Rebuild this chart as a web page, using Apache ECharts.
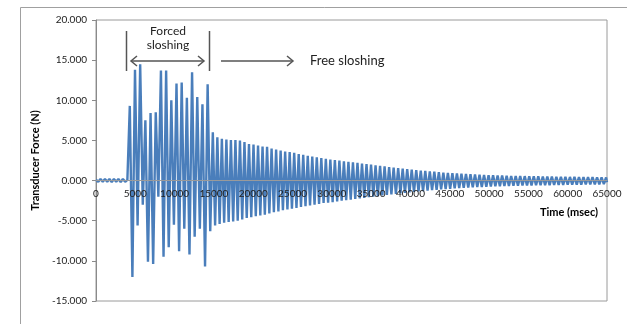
<!DOCTYPE html>
<html>
<head>
<meta charset="utf-8">
<script src="https://cdn.jsdelivr.net/npm/echarts@6/dist/echarts.min.js"></script>
<style>
html,body{margin:0;padding:0;background:#fff;}
#chart{width:627px;height:324px;}
</style>
</head>
<body>
<div id="chart"></div>
<script>
// ---- Data ----
// Tick labels
const yTicks = [-15, -10, -5, 0, 5, 10, 15, 20];
const xTicks = [0, 5000, 10000, 15000, 20000, 25000, 30000, 35000, 40000, 45000, 50000, 55000, 60000, 65000];

// Before excitation: small ripple
const preTimes = [0, 290, 570, 860, 1140, 1430, 1710, 2000, 2280, 2570, 2850, 3140, 3420, 3710, 3990, 4060];
const preForce = [0.1, -0.15, 0.2, -0.15, 0.2, -0.15, 0.2, -0.2, 0.2, -0.15, 0.2, -0.2, 0.2, -0.15, 0.1, 0.0];

// Forced sloshing extrema
const forcedTimes = [4300, 4630, 4960, 5290, 5620, 5950, 6280, 6610, 6940, 7270, 7600, 7930, 8260, 8590, 8920, 9250,
  9580, 9910, 10240, 10570, 10900, 11230, 11560, 11890, 12220, 12550, 12880, 13210, 13540, 13870, 14200, 14530];
const forcedForce = [9.3, -12.0, 13.8, -5.6, 14.5, -3.0, 7.5, -10.1, 8.4, -10.4, 8.5, -2.0, 13.7, -9.5, 13.7, -8.3,
  10.0, -5.5, 12.1, -8.8, 12.2, -6.0, 10.3, -9.2, 13.5, -7.0, 10.4, -6.0, 9.5, -10.7, 12.0, -6.3];

// Free sloshing: positive peaks
const freePeakTimes = [14860, 15435, 16010, 16585, 17160, 17735, 18310, 18885, 19460, 20035, 20610, 21185, 21760, 22335,
  22910, 23485, 24060, 24635, 25210, 25785, 26360, 26935, 27510, 28085, 28660, 29235, 29810, 30385, 30960, 31535, 32110,
  32685, 33260, 33835, 34410, 34985, 35560, 36135, 36710, 37285, 37860, 38435, 39010, 39585, 40160, 40735, 41310, 41885,
  42460, 43035, 43610, 44185, 44760, 45335, 45910, 46485, 47060, 47635, 48210, 48785, 49360, 49935, 50510, 51085, 51660,
  52235, 52810, 53385, 53960, 54535, 55110, 55685, 56260, 56835, 57410, 57985, 58560, 59135, 59710, 60285, 60860, 61435,
  62010, 62585, 63160, 63735, 64310, 64885];
const freePeakForce = [6.0, 5.4, 5.2, 5.1, 5.05, 5.05, 5.0, 4.8, 4.55, 4.5, 4.35, 4.25, 4.2, 4.0, 3.85, 3.75, 3.6, 3.55,
  3.45, 3.3, 3.2, 3.1, 3.0, 2.9, 2.8, 2.7,
  2.62, 2.55, 2.48, 2.4, 2.33, 2.26, 2.2, 2.12, 2.05, 1.98, 1.9, 1.83, 1.76, 1.69, 1.62, 1.55,
  1.48, 1.42, 1.36, 1.3, 1.25, 1.2, 1.15, 1.1, 1.05, 1.0, 0.96, 0.92, 0.88, 0.85, 0.82, 0.79, 0.76, 0.73, 0.7, 0.68,
  0.66, 0.64, 0.62, 0.6, 0.58, 0.57, 0.56, 0.55, 0.54, 0.53, 0.52, 0.51, 0.5, 0.49, 0.48, 0.47, 0.46, 0.45, 0.45, 0.44,
  0.43, 0.42, 0.42, 0.41, 0.4, 0.4];

// Free sloshing: negative troughs
const freeTroughTimes = [15150, 15725, 16300, 16875, 17450, 18025, 18600, 19175, 19750, 20325, 20900, 21475, 22050, 22625,
  23200, 23775, 24350, 24925, 25500, 26075, 26650, 27225, 27800, 28375, 28950, 29525, 30100, 30675, 31250, 31825, 32400,
  32975, 33550, 34125, 34700, 35275, 35850, 36425, 37000, 37575, 38150, 38725, 39300, 39875, 40450, 41025, 41600, 42175,
  42750, 43325, 43900, 44475, 45050, 45625, 46200, 46775, 47350, 47925, 48500, 49075, 49650, 50225, 50800, 51375, 51950,
  52525, 53100, 53675, 54250, 54825, 55400, 55975, 56550, 57125, 57700, 58275, 58850, 59425, 60000, 60575, 61150, 61725,
  62300, 62875, 63450, 64025, 64600, 65000];
const freeTroughForce = [-5.6, -5.4, -5.25, -5.15, -5.1, -5.0, -4.85, -4.65, -4.55, -4.45, -4.35, -4.25, -4.1, -3.95,
  -3.85, -3.7, -3.6, -3.5, -3.4, -3.3, -3.2, -3.1, -3.0, -2.9, -2.8, -2.75,
  -2.68, -2.6, -2.52, -2.45, -2.38, -2.3, -2.22, -2.15, -2.08, -2.0, -1.93, -1.86, -1.8, -1.73, -1.66, -1.6,
  -1.53, -1.47, -1.41, -1.35, -1.3, -1.25, -1.2, -1.15, -1.1, -1.06, -1.02, -0.98, -0.94, -0.91, -0.88, -0.85, -0.82,
  -0.79, -0.76, -0.74, -0.72, -0.7, -0.68, -0.66, -0.64, -0.63, -0.62, -0.61, -0.6, -0.59, -0.58, -0.57, -0.56, -0.55,
  -0.54, -0.53, -0.52, -0.51, -0.5, -0.5, -0.49, -0.48, -0.47, -0.46, -0.45, -0.2];

// ---- Build series data ----
function pairs(ts, vs) { return ts.map((t, i) => [t, vs[i]]); }
const seriesData = []
  .concat(pairs(preTimes, preForce))
  .concat(pairs(forcedTimes, forcedForce))
  .concat(pairs(freePeakTimes, freePeakForce))
  .concat(pairs(freeTroughTimes, freeTroughForce))
  .sort((a, b) => a[0] - b[0]);

const FONT = 'Lato, "Open Sans", sans-serif';
const ANN = '#555555';
const GRID = {left: 96, top: 20, right: 20, bottom: 23};
const plotH = 324 - GRID.top - GRID.bottom;
const yMin = yTicks[0], yMax = yTicks[yTicks.length - 1];
// place the x axis (line + labels) at force = 0
const zeroOffset = -plotH * (0 - yMin) / (yMax - yMin);

const chart = echarts.init(document.getElementById('chart'), null, {renderer: 'canvas'});
chart.setOption({
  animation: false,
  backgroundColor: '#ffffff',
  grid: Object.assign({show: true, borderColor: '#9a9a9a', borderWidth: 1, backgroundColor: 'transparent'}, GRID),
  xAxis: {
    type: 'value', min: xTicks[0], max: xTicks[xTicks.length - 1], interval: xTicks[1] - xTicks[0],
    offset: zeroOffset, z: 10,
    axisLine: {show: true, onZero: false, lineStyle: {color: '#9a9a9a', width: 1}},
    axisTick: {show: false},
    splitLine: {show: false},
    axisLabel: {color: '#222', fontFamily: FONT, fontSize: 10, margin: 8, formatter: v => String(v)}
  },
  yAxis: {
    type: 'value', min: yMin, max: yMax, interval: yTicks[1] - yTicks[0],
    name: 'Transducer Force (N)', nameLocation: 'middle', nameGap: 53,
    nameTextStyle: {color: '#000', fontFamily: FONT, fontSize: 11, fontWeight: 'bold'},
    axisLine: {show: true, lineStyle: {color: '#8a8a8a', width: 1}},
    axisTick: {show: true, length: 4, lineStyle: {color: '#8a8a8a'}},
    splitLine: {show: false},
    axisLabel: {color: '#222', fontFamily: FONT, fontSize: 10, margin: 9, formatter: v => v.toFixed(3)}
  },
  series: [{
    type: 'line', data: seriesData, showSymbol: false, symbol: 'none',
    lineStyle: {color: '#4a7ebb', width: 2.4}, z: 3
  }],
  graphic: [
    {type: 'rect', shape: {x: 20.5, y: 7.5, width: 640, height: 340}, style: {fill: 'none', stroke: '#a0a0a0', lineWidth: 1}, silent: true},
    {type: 'text', style: {text: 'Time (msec)', x: 569, y: 212, textAlign: 'center', textVerticalAlign: 'middle', font: 'bold 11px ' + FONT, fill: '#000'}},
    // Forced sloshing bracket
    {type: 'line', shape: {x1: 126.5, y1: 31, x2: 126.5, y2: 71}, style: {stroke: ANN, lineWidth: 1.5}},
    {type: 'line', shape: {x1: 209.5, y1: 31, x2: 209.5, y2: 71}, style: {stroke: ANN, lineWidth: 1.5}},
    {type: 'polyline', shape: {points: [[131, 61], [204, 61]]}, style: {stroke: ANN, lineWidth: 1.5, fill: 'none'}},
    {type: 'polyline', shape: {points: [[137, 56], [131, 61], [137, 66]]}, style: {stroke: ANN, lineWidth: 1.5, fill: 'none'}},
    {type: 'polyline', shape: {points: [[198, 56], [204, 61], [198, 66]]}, style: {stroke: ANN, lineWidth: 1.5, fill: 'none'}},
    {type: 'text', style: {text: 'Forced', x: 168, y: 31, textAlign: 'center', textVerticalAlign: 'middle', font: '12px ' + FONT, fill: '#222'}},
    {type: 'text', style: {text: 'sloshing', x: 168, y: 45, textAlign: 'center', textVerticalAlign: 'middle', font: '12px ' + FONT, fill: '#222'}},
    // Free sloshing arrow
    {type: 'polyline', shape: {points: [[221, 61], [293, 61]]}, style: {stroke: ANN, lineWidth: 1.5, fill: 'none'}},
    {type: 'polyline', shape: {points: [[287, 56], [293, 61], [287, 66]]}, style: {stroke: ANN, lineWidth: 1.5, fill: 'none'}},
    {type: 'text', style: {text: 'Free sloshing', x: 310, y: 61, textAlign: 'left', textVerticalAlign: 'middle', font: '13px ' + FONT, fill: '#222'}}
  ]
});
</script>
</body>
</html>
